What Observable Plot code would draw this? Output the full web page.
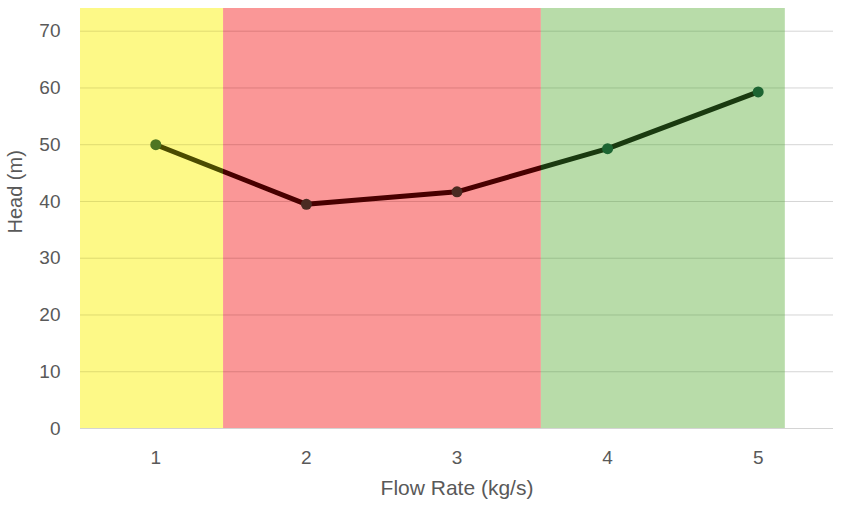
<!DOCTYPE html>
<html>
<head>
<meta charset="utf-8">
<script src="https://cdn.jsdelivr.net/npm/d3@7"></script>
<script src="https://cdn.jsdelivr.net/npm/@observablehq/plot@0.6"></script>
<style>
  html, body { margin: 0; padding: 0; background: #fff; }
  #chart svg { display: block; }
</style>
</head>
<body>
<div id="chart"></div>
<script>
const flow = [1, 2, 3, 4, 5];
const head = [50, 39.5, 41.7, 49.3, 59.3];
const xTicks = [1, 2, 3, 4, 5];
const yTicks = [0, 10, 20, 30, 40, 50, 60, 70];
const bandStart = [0.5, 1.45, 3.56];
const bandEnd = [1.45, 3.56, 5.18];
const bandTop = [74, 74, 74];
const bandBase = ["#fff9c2", "#ffd8d8", "#e2e9dc"];
const bandTint = ["#f7f700", "#f00000", "#57c135"];

const points = flow.map((f, i) => ({flow: f, head: head[i]}));
const bands = bandStart.map((s, i) => ({x1: s, x2: bandEnd[i], top: bandTop[i], base: bandBase[i], tint: bandTint[i]}));

const narrow = "'Liberation Sans Narrow', 'Liberation Sans', sans-serif";
const txt = "#595959";

const chart = Plot.plot({
  width: 846,
  height: 510,
  marginTop: 8,
  marginBottom: 82,
  marginLeft: 80,
  marginRight: 13,
  style: {fontFamily: "'Liberation Sans', Arial, sans-serif", color: txt, background: "#fff"},
  x: {domain: [0.5, 5.5], label: null},
  y: {domain: [0, 74], label: null},
  marks: [
    Plot.rectY(bands, {x1: "x1", x2: "x2", y1: 0, y2: "top", fill: "base"}),
    Plot.gridY(yTicks, {stroke: "#000", strokeOpacity: 0.17, strokeWidth: 1}),
    Plot.line(points, {x: "flow", y: "head", stroke: "#000", strokeWidth: 5, strokeLinejoin: "round"}),
    Plot.dot(points, {x: "flow", y: "head", r: 5.5, fill: "#053e32", stroke: "none"}),
    Plot.rectY(bands, {x1: "x1", x2: "x2", y1: 0, y2: "top", fill: "tint", fillOpacity: 0.3}),
    Plot.axisY(yTicks, {tickSize: 0, tickPadding: 20, fontSize: 19, fill: txt, label: null, tickFormat: "d"}),
    Plot.axisX(xTicks, {tickSize: 0, tickPadding: 22, fontSize: 19, fontFamily: narrow, fill: txt, label: null, tickFormat: "d"}),
    Plot.text(["Flow Rate (kg/s)"], {frameAnchor: "bottom", dy: 66, fontSize: 21, fontFamily: narrow, fill: txt}),
    Plot.text(["Head (m)"], {frameAnchor: "left", dx: -65, dy: 15, rotate: -90, fontSize: 20, fill: txt})
  ]
});
document.getElementById("chart").appendChild(chart);
</script>
</body>
</html>
